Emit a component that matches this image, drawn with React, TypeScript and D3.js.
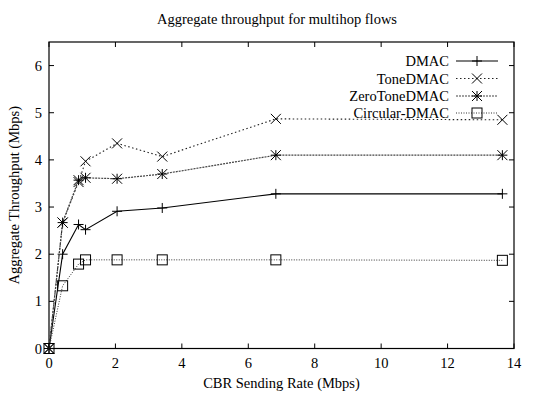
import React, { useEffect, useRef } from 'react';
import * as d3 from 'd3';

const rates = [0, 0.41, 0.89, 1.1, 2.05, 3.41, 6.83, 13.65];
const dmac = [0, 2.0, 2.63, 2.52, 2.91, 2.98, 3.28, 3.28];
const toneDmac = [0, 2.67, 3.53, 3.97, 4.35, 4.07, 4.87, 4.85];
const zeroToneDmac = [0, 2.67, 3.57, 3.62, 3.6, 3.7, 4.1, 4.1];
const circularDmac = [0, 1.33, 1.79, 1.88, 1.88, 1.88, 1.88, 1.87];
const seriesNames = ['DMAC', 'ToneDMAC', 'ZeroToneDMAC', 'Circular-DMAC'];
const xTicks = [0, 2, 4, 6, 8, 10, 12, 14];
const yTicks = [0, 1, 2, 3, 4, 5, 6];

const App: React.FC = () => {
  const ref = useRef<SVGSVGElement | null>(null);

  useEffect(() => {
    const svg = d3.select(ref.current);
    svg.selectAll('*').remove();

    const left = 49, right = 514, top = 42, bottom = 348.5;
    const font = "'Liberation Serif', 'Times New Roman', Times, serif";
    const fs = 14.5;

    const x = d3.scaleLinear().domain([0, 14]).range([left, right]);
    const y = d3.scaleLinear().domain([0, 6.5]).range([bottom, top]);

    const styles = [
      { dash: null, color: '#000', width: 1.1, marker: 'plus' },
      { dash: '1.5,2.5', color: '#222', width: 1.1, marker: 'cross' },
      { dash: '2,1', color: '#444', width: 1.2, marker: 'star' },
      { dash: '1,1.5', color: '#333', width: 1, marker: 'square' },
    ];
    const data = [dmac, toneDmac, zeroToneDmac, circularDmac];

    const g = svg.append('g');

    // frame
    g.append('rect')
      .attr('x', left).attr('y', top)
      .attr('width', right - left).attr('height', bottom - top)
      .attr('fill', 'none').attr('stroke', '#000').attr('stroke-width', 1.2);

    const tl = 5;
    xTicks.forEach(t => {
      g.append('line').attr('x1', x(t)).attr('x2', x(t)).attr('y1', bottom).attr('y2', bottom - tl)
        .attr('stroke', '#000');
      g.append('line').attr('x1', x(t)).attr('x2', x(t)).attr('y1', top).attr('y2', top + tl)
        .attr('stroke', '#000');
      g.append('text').attr('x', x(t)).attr('y', bottom + 19)
        .attr('text-anchor', 'middle').attr('font-family', font).attr('font-size', fs)
        .text(t);
    });
    yTicks.forEach(t => {
      g.append('line').attr('x1', left).attr('x2', left + tl).attr('y1', y(t)).attr('y2', y(t))
        .attr('stroke', '#000');
      g.append('line').attr('x1', right).attr('x2', right - tl).attr('y1', y(t)).attr('y2', y(t))
        .attr('stroke', '#000');
      g.append('text').attr('x', left - 7).attr('y', y(t) + 5)
        .attr('text-anchor', 'end').attr('font-family', font).attr('font-size', fs)
        .text(t);
    });

    // titles
    svg.append('text').attr('x', 277).attr('y', 24).attr('text-anchor', 'middle')
      .attr('font-family', font).attr('font-size', fs).text('Aggregate throughput for multihop flows');
    svg.append('text').attr('x', (left + right) / 2).attr('y', 388).attr('text-anchor', 'middle')
      .attr('font-family', font).attr('font-size', fs).text('CBR Sending Rate (Mbps)');
    svg.append('text')
      .attr('transform', `translate(19,${(top + bottom) / 2}) rotate(-90)`)
      .attr('text-anchor', 'middle')
      .attr('font-family', font).attr('font-size', fs).text('Aggregate Throughput (Mbps)');

    const drawMarker = (sel: d3.Selection<SVGGElement, unknown, null, undefined>, kind: string, cx: number, cy: number) => {
      const s = 5;
      const m = sel.append('g').attr('transform', `translate(${cx},${cy})`)
        .attr('stroke', '#000').attr('stroke-width', 1).attr('fill', 'none');
      if (kind === 'plus' || kind === 'star') {
        m.append('line').attr('x1', -s).attr('x2', s).attr('y1', 0).attr('y2', 0);
        m.append('line').attr('x1', 0).attr('x2', 0).attr('y1', -s).attr('y2', s);
      }
      if (kind === 'cross' || kind === 'star') {
        m.append('line').attr('x1', -s).attr('x2', s).attr('y1', -s).attr('y2', s);
        m.append('line').attr('x1', -s).attr('x2', s).attr('y1', s).attr('y2', -s);
      }
      if (kind === 'square') {
        m.append('rect').attr('x', -s).attr('y', -s).attr('width', 2 * s).attr('height', 2 * s);
      }
    };

    const line = d3.line<number>().x((_, i) => x(rates[i])).y(d => y(d));

    data.forEach((vals, k) => {
      const st = styles[k];
      const p = g.append('path').datum(vals).attr('d', line)
        .attr('fill', 'none').attr('stroke', st.color).attr('stroke-width', st.width);
      if (st.dash) p.attr('stroke-dasharray', st.dash);
      vals.forEach((v, i) => drawMarker(g, st.marker, x(rates[i]), y(v)));
    });

    // legend
    const legY = [61, 78.5, 96, 113];
    seriesNames.forEach((name, k) => {
      const st = styles[k];
      g.append('text').attr('x', 449).attr('y', legY[k] + 5).attr('text-anchor', 'end')
        .attr('font-family', font).attr('font-size', fs).text(name);
      const p = g.append('line').attr('x1', 456).attr('x2', 498).attr('y1', legY[k]).attr('y2', legY[k])
        .attr('stroke', st.color).attr('stroke-width', st.width);
      if (st.dash) p.attr('stroke-dasharray', st.dash);
      drawMarker(g, st.marker, 477, legY[k]);
    });
  }, []);

  return <svg ref={ref} width={555} height={399} style={{ position: 'absolute', left: 0, top: 0 }} />;
};

export default App;
